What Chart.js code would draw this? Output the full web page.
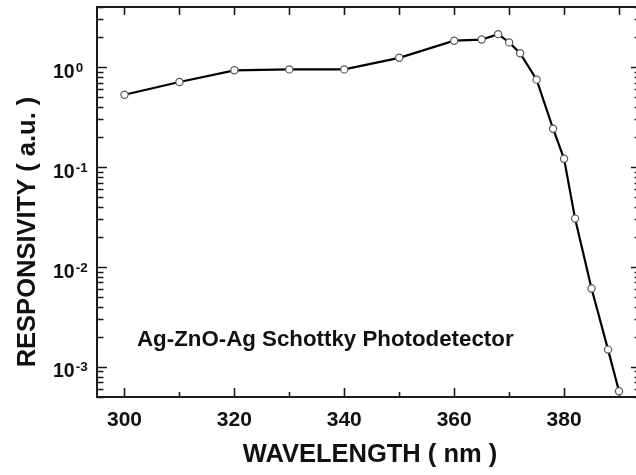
<!DOCTYPE html>
<html><head><meta charset="utf-8">
<script src="https://cdn.jsdelivr.net/npm/chart.js@4"></script>
<style>html,body{margin:0;padding:0;overflow:hidden;background:#fff}canvas{display:block}</style>
</head><body>
<canvas id="c" width="648" height="475"></canvas>
<script>
const wavelength = [300, 310, 320, 330, 340, 350, 360, 365, 368, 370, 372, 375, 378, 380, 382, 385, 388, 390];
const responsivity = [0.53, 0.71, 0.93, 0.95, 0.95, 1.24, 1.84, 1.89, 2.14, 1.77, 1.38, 0.75, 0.242, 0.121, 0.0305, 0.0061, 0.00149, 0.00057];
const xTickLabels = [300, 320, 340, 360, 380];
const xMinorTicks = [300, 310, 320, 330, 340, 350, 360, 370, 380, 390];
const yDecadeExponents = [0, -1, -2, -3];
const xTitle = 'WAVELENGTH ( nm )';
const yTitle = 'RESPONSIVITY ( a.u. )';
const annotation = 'Ag-ZnO-Ag Schottky Photodetector';

const FONT = "'Liberation Sans', Arial, Helvetica, sans-serif";
const INK = '#111';

const framePlugin = {
  id: 'frame',
  beforeDatasetsDraw(chart) {
    const {ctx, chartArea: a, scales: {x, y}} = chart;
    ctx.save();
    ctx.strokeStyle = '#1a1a1a';
    ctx.lineWidth = 1.6;
    ctx.beginPath();
    xMinorTicks.forEach(v => {
      const px = Math.round(x.getPixelForValue(v)) + 0.5;
      const len = (v % 20 === 0) ? 9 : 5;
      ctx.moveTo(px, a.bottom); ctx.lineTo(px, a.bottom - len);
      ctx.moveTo(px, a.top); ctx.lineTo(px, a.top + 8);
    });
    const lo = Math.floor(Math.log10(y.min)), hi = Math.ceil(Math.log10(y.max));
    for (let e = lo; e <= hi; e++) {
      for (let k = 1; k <= 9; k++) {
        const v = k * Math.pow(10, e);
        if (v < y.min * 0.999 || v > y.max * 1.001) continue;
        const py = Math.round(y.getPixelForValue(v)) + 0.5;
        const len = k === 1 ? 10 : 6.5;
        ctx.moveTo(a.left, py); ctx.lineTo(a.left + len, py);
        ctx.moveTo(a.right, py); ctx.lineTo(a.right - len, py);
      }
    }
    ctx.stroke();
    ctx.lineWidth = 2;
    ctx.strokeRect(a.left, a.top, a.right - a.left, a.bottom - a.top);
    ctx.restore();
  },
  afterDraw(chart) {
    const {ctx, scales: {y}} = chart;
    ctx.save();
    ctx.fillStyle = INK;
    yDecadeExponents.forEach(e => {
      const py = y.getPixelForValue(Math.pow(10, e));
      ctx.font = `bold 19.5px ${FONT}`;
      ctx.textAlign = 'left';
      ctx.textBaseline = 'alphabetic';
      ctx.fillText('10', 53, py + 10.5);
      const w = ctx.measureText('10').width;
      ctx.font = `bold 13.5px ${FONT}`;
      ctx.fillText(String(e), 53 + w + 1, py + 4.5);
    });
    ctx.font = `bold 25.5px ${FONT}`;
    ctx.textAlign = 'center';
    ctx.textBaseline = 'alphabetic';
    ctx.fillText(xTitle, 370, 462);
    ctx.save();
    ctx.translate(35, 232);
    ctx.rotate(-Math.PI / 2);
    ctx.font = `bold 25.5px ${FONT}`;
    ctx.fillText(yTitle, 0, 0);
    ctx.restore();
    ctx.font = `bold 22.3px ${FONT}`;
    ctx.textAlign = 'left';
    ctx.fillText(annotation, 137, 346);
    ctx.restore();
  }
};

new Chart(document.getElementById('c').getContext('2d'), {
  type: 'line',
  data: {
    datasets: [{
      data: wavelength.map((w, i) => ({x: w, y: responsivity[i]})),
      borderColor: '#000',
      borderWidth: 2.2,
      pointRadius: 3.6,
      pointBackgroundColor: '#fff',
      pointBorderColor: '#5a5a5a',
      pointBorderWidth: 1.2,
      tension: 0,
      fill: false
    }]
  },
  options: {
    responsive: false,
    animation: false,
    devicePixelRatio: 1,
    layout: {padding: {top: 7, right: 7, left: 0, bottom: 0}},
    plugins: {legend: {display: false}, tooltip: {enabled: false}},
    scales: {
      x: {
        type: 'linear', min: 295, max: 394,
        grid: {display: false, drawTicks: false},
        border: {display: false},
        afterBuildTicks: s => { s.ticks = xTickLabels.map(v => ({value: v})); },
        ticks: {
          font: {family: FONT, size: 21, weight: 'bold'}, color: INK,
          padding: 11, maxRotation: 0, autoSkip: false, includeBounds: false,
          callback: v => String(v)
        },
        afterFit: s => { s.height = 78; }
      },
      y: {
        type: 'logarithmic', min: 5e-4, max: 4,
        grid: {display: false, drawTicks: false},
        border: {display: false},
        ticks: {display: false},
        afterFit: s => { s.width = 97; }
      }
    }
  },
  plugins: [framePlugin]
});
</script>
</body></html>
